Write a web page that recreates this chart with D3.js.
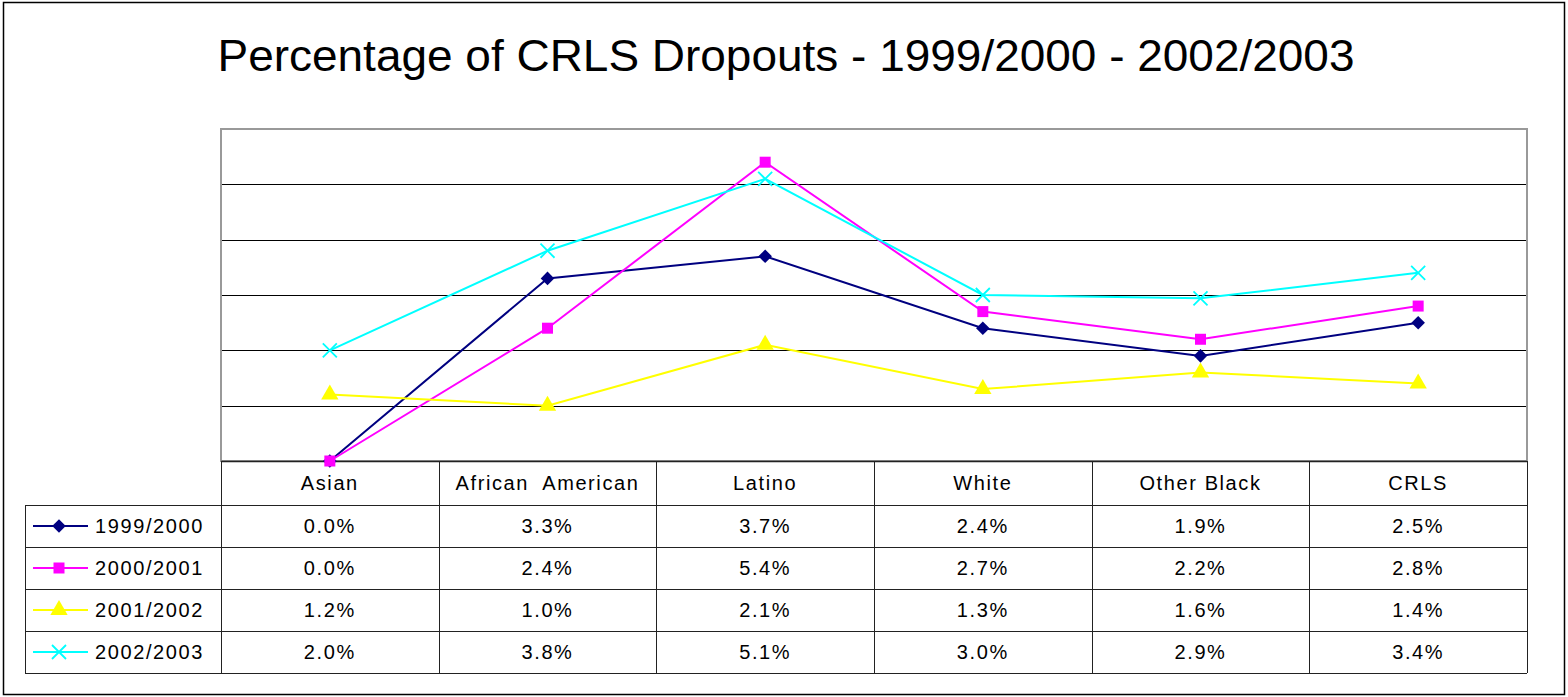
<!DOCTYPE html>
<html>
<head>
<meta charset="utf-8">
<script src="https://cdn.jsdelivr.net/npm/d3@7"></script>
<style>
  body { margin: 0; background: #fff; }
  svg { display: block; font-family: "Liberation Sans", Arial, sans-serif; }
  text { white-space: pre; }
</style>
</head>
<body>
<div id="chart"></div>
<script>
const categories = ['Asian', 'African  American', 'Latino', 'White', 'Other Black', 'CRLS']
const seriesNames = ['1999/2000', '2000/2001', '2001/2002', '2002/2003']
const s1999 = [0.0, 3.3, 3.7, 2.4, 1.9, 2.5]
const s2000 = [0.0, 2.4, 5.4, 2.7, 2.2, 2.8]
const s2001 = [1.2, 1.0, 2.1, 1.3, 1.6, 1.4]
const s2002 = [2.0, 3.8, 5.1, 3.0, 2.94, 3.4]
const yTicks = [0, 1, 2, 3, 4, 5, 6]

const colors = ['#000080', '#FF00FF', '#FFFF00', '#00FFFF']
const markers = ['diamond', 'square', 'triangle', 'x']
const series = [s1999, s2000, s2001, s2002].map((v, i) => ({ name: seriesNames[i], values: v, color: colors[i], marker: markers[i] }))

const W = 1568, H = 697
const plot = { left: 221, right: 1527, top: 129, bottom: 461 }
const table = { left: 25, headerBottom: 505, rowH: 42 }

const svg = d3.select('#chart').append('svg').attr('width', W).attr('height', H)

// outer border
svg.append('rect').attr('x', 3.5).attr('y', 2.5).attr('width', 1561).attr('height', 692)
    .attr('fill', 'none').attr('stroke', '#000').attr('stroke-width', 1.5)

svg.append('text')
    .attr('x', 786).attr('y', 71)
    .attr('text-anchor', 'middle')
    .attr('font-size', 44)
    .attr('textLength', 1137).attr('lengthAdjust', 'spacingAndGlyphs')
    .text('Percentage of CRLS Dropouts - 1999/2000 - 2002/2003')

const x = d3.scaleBand().domain(categories).range([plot.left, plot.right])
const y = d3.scaleLinear().domain([0, 6]).range([plot.bottom, plot.top])
const cx = j => x(categories[j]) + x.bandwidth() / 2

// draws one marker of a series at (0,0)
const drawMarker = (sel, s) => {
    if (s.marker === 'diamond') {
        sel.append('path').attr('d', d3.symbol().type(d3.symbolSquare).size(92)())
            .attr('transform', 'rotate(45)').attr('fill', s.color)
    } else if (s.marker === 'square') {
        sel.append('path').attr('d', d3.symbol().type(d3.symbolSquare).size(121)()).attr('fill', s.color)
    } else if (s.marker === 'triangle') {
        sel.append('path').attr('d', d3.symbol().type(d3.symbolTriangle).size(130)()).attr('fill', s.color)
    } else {
        sel.append('path').attr('d', d3.symbol().type(d3.symbolX).size(130)())
            .attr('fill', 'none').attr('stroke', s.color).attr('stroke-width', 1.8)
    }
}

// gridlines
svg.append('g').selectAll('line')
    .data(yTicks.filter(t => t > 0 && t < 6))
    .enter().append('line')
    .attr('x1', plot.left).attr('x2', plot.right)
    .attr('y1', d => Math.round(y(d)) + 0.5).attr('y2', d => Math.round(y(d)) + 0.5)
    .attr('stroke', '#000').attr('stroke-width', 1)

// plot frame
svg.append('rect')
    .attr('x', plot.left).attr('y', plot.top)
    .attr('width', plot.right - plot.left).attr('height', plot.bottom - plot.top)
    .attr('fill', 'none').attr('stroke', '#999').attr('stroke-width', 2)

// data table
const rowsBottom = table.headerBottom + table.rowH * seriesNames.length
const tg = svg.append('g').attr('stroke', '#222').attr('stroke-width', 1)
categories.forEach(c => {
    const xx = Math.round(x(c)) + 0.5
    tg.append('line').attr('x1', xx).attr('x2', xx).attr('y1', plot.bottom).attr('y2', rowsBottom)
})
tg.append('line').attr('x1', plot.right + 0.5).attr('x2', plot.right + 0.5).attr('y1', plot.bottom).attr('y2', rowsBottom)
tg.append('line').attr('x1', table.left + 0.5).attr('x2', table.left + 0.5).attr('y1', table.headerBottom).attr('y2', rowsBottom)
tg.append('line').attr('x1', plot.left).attr('x2', plot.right).attr('y1', plot.bottom + 0.5).attr('y2', plot.bottom + 0.5).attr('stroke-width', 1.5)
d3.range(seriesNames.length + 1).forEach(i => {
    const yy = table.headerBottom + i * table.rowH + 0.5
    tg.append('line').attr('x1', table.left).attr('x2', plot.right).attr('y1', yy).attr('y2', yy)
})

const textStyle = sel => sel.attr('font-size', 20).attr('letter-spacing', 1.6).attr('fill', '#000')

svg.append('g').selectAll('text')
    .data(categories).enter().append('text')
    .attr('x', d => x(d) + x.bandwidth() / 2)
    .attr('y', (plot.bottom + table.headerBottom) / 2 + 7)
    .attr('text-anchor', 'middle')
    .call(textStyle)
    .text(d => d)

series.forEach((s, i) => {
    const rowY = table.headerBottom + i * table.rowH + table.rowH / 2
    const row = svg.append('g')
    row.append('line').attr('x1', 33).attr('x2', 88).attr('y1', rowY).attr('y2', rowY)
        .attr('stroke', s.color).attr('stroke-width', 2)
    row.append('g').attr('transform', `translate(59,${rowY})`).call(drawMarker, s)
    row.append('text').attr('x', 95).attr('y', rowY + 7).call(textStyle).text(s.name)
    row.selectAll('.val').data(s.values).enter().append('text')
        .attr('class', 'val')
        .attr('x', (d, j) => cx(j))
        .attr('y', rowY + 7)
        .attr('text-anchor', 'middle')
        .call(textStyle)
        .text(d => d.toFixed(1) + '%')
})

// lines + markers
const line = d3.line()
    .x((d, j) => cx(j))
    .y(d => y(d))

series.forEach(s => {
    const g = svg.append('g')
    g.append('path').datum(s.values)
        .attr('d', line)
        .attr('fill', 'none').attr('stroke', s.color).attr('stroke-width', 2)
    g.selectAll('g.m').data(s.values).enter().append('g')
        .attr('class', 'm')
        .attr('transform', (d, j) => `translate(${cx(j)},${y(d)})`)
        .each(function () { d3.select(this).call(drawMarker, s) })
})
</script>
</body>
</html>
